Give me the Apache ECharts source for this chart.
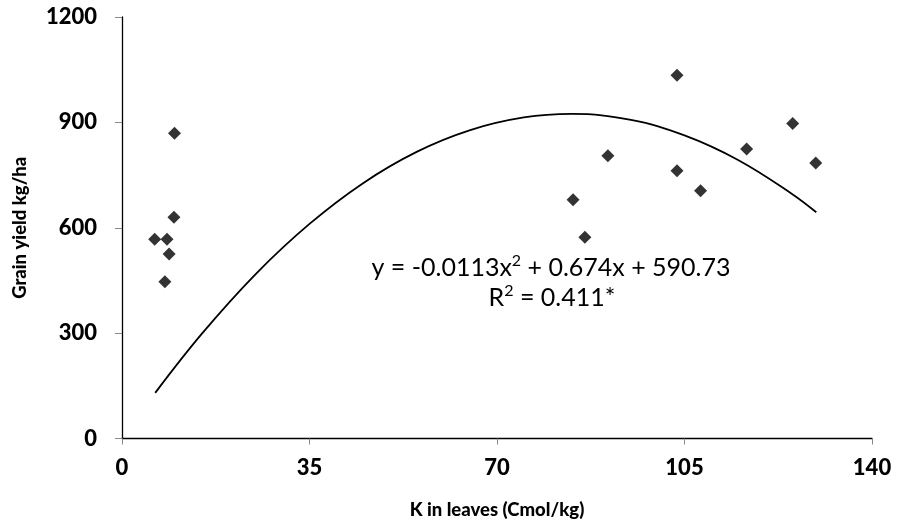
<!DOCTYPE html>
<html>
<head>
<meta charset="utf-8">
<script src="https://cdn.jsdelivr.net/npm/echarts@6/dist/echarts.min.js"></script>
<style>
  html, body { margin: 0; padding: 0; background: #fff; }
  #chart { width: 903px; height: 531px; }
</style>
</head>
<body>
<div id="chart"></div>
<script>
// K in leaves (Cmol/kg) against grain yield (kg/ha)
const kLeaves = [6.1, 8.4, 8.8, 8.0, 9.7, 9.8, 84.2, 86.4, 90.7, 103.6, 103.6, 108.0, 116.6, 125.2, 129.5];
const grainYield = [567, 567, 525, 446, 630, 869, 680, 573, 805, 1034, 762, 705, 824, 897, 784];

// Quadratic trend line, sampled along the drawn curve
const trendX = [6.2, 15, 25, 35, 45, 55, 65, 75, 84, 95, 105, 115, 125, 129.6];
const trendY = [130, 300, 469, 611, 727, 816, 878, 914, 924, 907, 863, 793, 697, 644];

const xTicks = { min: 0, max: 140, interval: 35 };
const yTicks = { min: 0, max: 1200, interval: 300 };

// Trend-line equation; the "2" parts are drawn as superscripts
const equationParts = ['y = -0.0113x', '2', ' + 0.674x + 590.73'];
const r2Parts = ['R', '2', ' = 0.411*'];

const FONT = 'Lato, "Open Sans", sans-serif';

const eqRich = {
  n: { fontFamily: FONT, fontSize: 25, lineHeight: 30, color: '#000' },
  s: { fontFamily: FONT, fontSize: 16, lineHeight: 18, verticalAlign: 'top', color: '#000' }
};
const richText = parts => `{n|${parts[0]}}{s|${parts[1]}}{n|${parts[2]}}`;

const chart = echarts.init(document.getElementById('chart'), null, { renderer: 'canvas' });

chart.setOption({
  animation: false,
  backgroundColor: '#ffffff',
  grid: { left: 122, right: 31, top: 17, bottom: 92.5, containLabel: false },
  xAxis: {
    type: 'value',
    min: xTicks.min, max: xTicks.max, interval: xTicks.interval,
    name: 'K in leaves (Cmol/kg)',
    nameLocation: 'middle',
    nameGap: 62,
    nameTextStyle: { fontFamily: FONT, fontWeight: 900, fontSize: 18.5, color: '#000' },
    axisLine: { show: true, onZero: false, lineStyle: { color: '#000', width: 1.3 } },
    axisTick: { show: true, inside: false, length: 6, lineStyle: { color: '#888', width: 1 } },
    axisLabel: { fontFamily: FONT, fontWeight: 900, fontSize: 22, color: '#000', margin: 18 },
    splitLine: { show: false }
  },
  yAxis: {
    type: 'value',
    min: yTicks.min, max: yTicks.max, interval: yTicks.interval,
    name: 'Grain yield kg/ha',
    nameLocation: 'middle',
    nameGap: 92,
    nameRotate: 90,
    nameTextStyle: { fontFamily: FONT, fontWeight: 900, fontSize: 18.5, color: '#000' },
    axisLine: { show: true, onZero: false, lineStyle: { color: '#000', width: 1.3 } },
    axisTick: { show: true, inside: false, length: 7, lineStyle: { color: '#888', width: 1 } },
    axisLabel: {
      fontFamily: FONT, fontWeight: 900, fontSize: 22, color: '#000', margin: 25,
      formatter: v => String(v)
    },
    splitLine: { show: false }
  },
  series: [
    {
      type: 'line',
      data: trendX.map((x, i) => [x, trendY[i]]),
      smooth: 0.4,
      showSymbol: false,
      symbol: 'none',
      lineStyle: { color: '#000', width: 1.8 },
      z: 2
    },
    {
      type: 'scatter',
      data: kLeaves.map((x, i) => [x, grainYield[i]]),
      symbol: 'diamond',
      symbolSize: 13,
      itemStyle: { color: '#000' },
      z: 3
    }
  ],
  graphic: [
    {
      type: 'text',
      x: 551, y: 268,
      style: { text: richText(equationParts), rich: eqRich, textAlign: 'center', textVerticalAlign: 'middle' }
    },
    {
      type: 'text',
      x: 552, y: 298,
      style: { text: richText(r2Parts), rich: eqRich, textAlign: 'center', textVerticalAlign: 'middle' }
    }
  ]
});
</script>
</body>
</html>
